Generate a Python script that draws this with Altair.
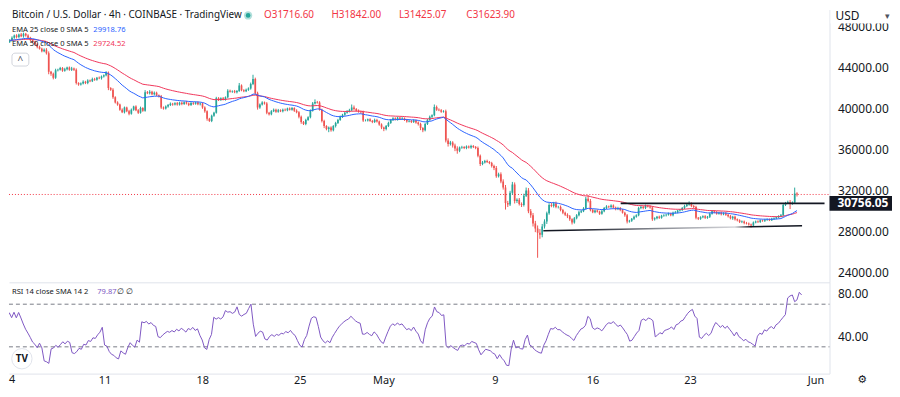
import numpy as np
import pandas as pd
import altair as alt

# ---------------- data (prices in units of $10) ----------------
start_time = "2022-04-03 20:00"     # first 4h candle
first_open10 = 4650.0
close10 = [
    4665, 4690, 4712, 4698, 4722, 4705, 4730, 4712, 4690, 4668, 4650, 4628,
    4600, 4585, 4560, 4575, 4540, 4360, 4340, 4300, 4375, 4380, 4395, 4370,
    4385, 4400, 4378, 4392, 4380, 4250, 4235, 4245, 4262, 4250, 4275, 4268,
    4290, 4282, 4300, 4295, 4312, 4325, 4350, 4200, 4185, 4110, 4060, 4040,
    3990, 3965, 4010, 3975, 3950, 3990, 4020, 3985, 3960, 4005, 3980, 4160,
    4150, 4165, 4140, 4155, 4130, 4120, 4012, 4000, 4020, 4035, 4048, 4040,
    4052, 4040, 4058, 4045, 4062, 4050, 4035, 4055, 4048, 4060, 4042, 4050,
    4010, 3975, 3900, 3880, 3930, 3960, 4100, 4085, 4100, 4090, 4110, 4175,
    4165, 4170, 4160, 4172, 4225, 4180, 4170, 4185, 4195, 4240, 4290, 4150,
    4010, 4040, 4060, 4050, 3960, 3945, 3975, 3990, 3970, 3985, 3975, 3990,
    3985, 4000, 3990, 4005, 3980, 3965, 3920, 3870, 3850, 3890, 3915, 3980,
    4050, 4065, 4060, 3990, 3880, 3830, 3800, 3815, 3790, 3830, 3860, 3890,
    3920, 3940, 3960, 3975, 3985, 4010, 3995, 3980, 3970, 3965, 3885, 3885,
    3895, 3880, 3870, 3890, 3875, 3845, 3815, 3800, 3830, 3860, 3890, 3905,
    3895, 3910, 3900, 3905, 3890, 3875, 3880, 3870, 3885, 3865, 3850, 3810,
    3790, 3850, 3890, 3920, 3935, 4015, 3990, 3985, 3970, 3975, 3690, 3655,
    3670, 3640, 3610, 3590, 3620, 3625, 3615, 3630, 3620, 3635, 3625, 3615,
    3540, 3460, 3475, 3490, 3480, 3470, 3440, 3420, 3340, 3360, 3290, 3230,
    3080, 3065, 3180, 3260, 3100, 3110, 3070, 3060, 3150, 3200, 3000, 2960,
    2880, 2830, 2790, 2770, 2850, 2900, 2980, 3060, 3050, 3075, 3040, 3040,
    3010, 2985, 2965, 2950, 2920, 2890, 2930, 2960, 2990, 3000, 3025, 3120,
    3100, 3010, 2990, 3005, 2995, 2975, 3000, 3030, 3045, 3040, 3055, 3035,
    3020, 3030, 3010, 2985, 2960, 2900, 2905, 2925, 2945, 2960, 3030, 3040,
    3030, 3050, 3045, 3035, 2920, 2930, 2945, 2935, 2955, 2960, 2965, 2975,
    2960, 2985, 2990, 3005, 3010, 3030, 3050, 3065, 3075, 3050, 3040, 2935,
    2925, 2940, 2950, 2935, 2945, 2975, 3000, 2990, 2975, 2985, 2970, 2980,
    2965, 2950, 2930, 2945, 2920, 2910, 2895, 2900, 2885, 2880, 2870, 2860,
    2890, 2900, 2895, 2910, 2905, 2915, 2920, 2912, 2925, 2930, 2940, 2950,
    2960, 3060, 3080, 3090, 3070, 3085, 3171.66, 3162.39,
]
wick_up10 = [
    12, 15, 10, 14, 9, 16, 11, 8, 13, 10, 9, 12,
    10, 14, 9, 12, 15, 18, 8, 11, 14, 9, 12, 10,
    13, 9, 11, 15, 8, 12, 7, 10, 14, 9, 11, 8,
    12, 10, 9, 13, 11, 8, 15, 12, 9, 14, 10, 11,
    8, 12, 10, 9, 13, 11, 8, 12, 10, 14, 9, 20,
    11, 15, 9, 12, 10, 8, 13, 9, 11, 10, 12, 8,
    10, 12, 9, 11, 8, 13, 10, 9, 12, 8, 11, 10,
    9, 12, 8, 10, 11, 9, 15, 12, 10, 13, 9, 14,
    10, 8, 12, 9, 25, 11, 9, 10, 12, 14, 40, 12,
    15, 10, 12, 9, 13, 8, 10, 11, 9, 12, 8, 10,
    11, 9, 12, 10, 8, 13, 10, 12, 9, 11, 10, 12,
    14, 25, 10, 12, 9, 11, 8, 10, 12, 9, 11, 10,
    12, 9, 11, 10, 13, 30, 20, 10, 12, 9, 15, 10,
    8, 11, 9, 12, 10, 8, 11, 9, 10, 12, 9, 11,
    10, 12, 8, 11, 9, 10, 12, 9, 11, 8, 10, 12,
    9, 11, 10, 12, 9, 25, 15, 12, 10, 9, 15, 20,
    15, 12, 18, 22, 10, 12, 9, 11, 10, 12, 9, 10,
    15, 12, 14, 10, 12, 9, 11, 13, 20, 15, 18, 20,
    25, 20, 18, 25, 20, 15, 18, 15, 20, 30, 25, 20,
    22, 25, 30, 35, 25, 20, 15, 18, 20, 15, 18, 12,
    15, 12, 10, 14, 12, 10, 13, 11, 12, 10, 14, 20,
    35, 18, 12, 10, 11, 9, 12, 10, 13, 9, 11, 10,
    9, 12, 10, 11, 9, 12, 10, 8, 11, 9, 12, 15,
    10, 14, 11, 9, 12, 10, 8, 11, 9, 10, 8, 11,
    9, 10, 12, 8, 11, 10, 12, 14, 20, 10, 9, 12,
    8, 10, 9, 11, 8, 12, 10, 9, 11, 8, 10, 9,
    11, 10, 12, 9, 11, 8, 10, 9, 8, 10, 9, 8,
    9, 8, 10, 9, 8, 10, 9, 8, 10, 9, 8, 10,
    12, 15, 10, 12, 18, 10, 58, 12.54,
]
wick_dn10 = [
    10, 12, 9, 14, 11, 8, 13, 10, 12, 9, 11, 10,
    12, 9, 11, 10, 13, 25, 20, 15, 10, 12, 9, 11,
    10, 12, 9, 11, 13, 15, 12, 10, 9, 11, 12, 10,
    9, 11, 10, 8, 12, 9, 10, 20, 12, 15, 10, 12,
    11, 9, 12, 10, 15, 9, 11, 10, 12, 9, 11, 10,
    9, 12, 10, 11, 9, 12, 15, 10, 9, 11, 10, 12,
    9, 11, 10, 12, 9, 10, 11, 9, 12, 10, 9, 11,
    12, 15, 18, 10, 12, 10, 9, 11, 10, 9, 12, 10,
    9, 11, 10, 12, 9, 11, 10, 9, 12, 10, 11, 15,
    20, 12, 10, 11, 15, 12, 10, 9, 11, 10, 9, 12,
    10, 11, 9, 10, 12, 11, 15, 18, 10, 12, 9, 10,
    9, 10, 11, 10, 15, 20, 12, 30, 15, 12, 14, 10,
    9, 11, 10, 9, 12, 10, 11, 9, 10, 12, 15, 10,
    11, 9, 12, 10, 11, 12, 15, 20, 12, 10, 9, 11,
    10, 12, 9, 11, 10, 12, 9, 11, 10, 12, 15, 20,
    20, 12, 10, 9, 11, 10, 12, 10, 11, 9, 20, 25,
    15, 20, 25, 30, 15, 12, 10, 11, 9, 12, 10, 11,
    15, 20, 12, 10, 11, 12, 15, 20, 15, 12, 18, 20,
    65, 25, 15, 20, 25, 20, 15, 20, 15, 12, 20, 25,
    30, 35, 245, 40, 25, 20, 25, 15, 12, 15, 12, 14,
    12, 15, 13, 18, 15, 20, 12, 10, 11, 9, 10, 12,
    15, 12, 10, 11, 9, 12, 10, 11, 10, 9, 11, 10,
    12, 10, 11, 9, 15, 20, 12, 10, 11, 9, 10, 11,
    12, 10, 9, 11, 15, 12, 10, 11, 9, 10, 12, 9,
    10, 11, 9, 12, 10, 9, 11, 10, 12, 11, 10, 15,
    12, 10, 9, 11, 10, 12, 9, 11, 10, 9, 12, 10,
    11, 12, 10, 15, 12, 10, 11, 12, 13, 10, 12, 20,
    10, 9, 11, 10, 9, 11, 10, 9, 8, 10, 9, 10,
    9, 12, 10, 11, 50, 9, 10, 19.88,
]

legend_title = "Bitcoin / U.S. Dollar · 4h · COINBASE · TradingView"
ohlc_items = ["O31716.60", "H31842.00", "L31425.07", "C31623.90"]
ema25_label, ema25_value = "EMA 25 close 0 SMA 5", "29918.76"
ema50_label, ema50_value = "EMA 50 close 0 SMA 5", "29724.52"
rsi_label, rsi_value = "RSI 14 close SMA 14 2", "79.87"
hline_price = 30756.05
hline_start_day = 44.2
support_days = [38.58, 57.37]
support_prices = [28090, 28570]
price_ticks = [24000, 28000, 32000, 36000, 40000, 44000, 48000]
rsi_ticks = [40, 80]
rsi_bands = [70, 30]
day_ticks = [7, 14, 21, 27, 35, 42, 49, 58]

# ---------------- derived frame ----------------
close = np.array(close10, float) * 10
openp = np.concatenate([[first_open10 * 10], close[:-1]])
high = np.maximum(openp, close) + np.array(wick_up10, float) * 10
low = np.minimum(openp, close) - np.array(wick_dn10, float) * 10
times = pd.date_range(start_time, periods=len(close), freq="4h")
days = ((times - pd.Timestamp("2022-04-04")) / pd.Timedelta(days=1)).values


def ema(v, n):
    a = 2.0 / (n + 1)
    out = np.empty(len(v))
    out[0] = v[0]
    for k in range(1, len(v)):
        out[k] = a * v[k] + (1 - a) * out[k - 1]
    return out


def rsi(v, n=14, seed=60.0):
    ag = al = seed
    out = [50.0]
    for k in range(1, len(v)):
        ch = v[k] - v[k - 1]
        ag = (ag * (n - 1) + max(ch, 0)) / n
        al = (al * (n - 1) + max(-ch, 0)) / n
        out.append(100 - 100 / (1 + ag / al) if al > 0 else 100.0)
    return np.array(out)


df = pd.DataFrame({
    "d": days, "open": openp, "close": close, "high": high, "low": low,
    "dir": np.where(close >= openp, "up", "down"),
    "ema25": ema(close, 25), "ema50": ema(close, 50), "rsi": rsi(close),
})

# ---------------- styling ----------------
FONT = "Noto Sans"
TXT = "#131722"
GRID = "#e0e3eb"
UP, DOWN = "#26a69a", "#ef5350"
BLUE, RED = "#2962ff", "#f0365a"
PURPLE = "#7e57c2"
W, H1, H2 = 827, 275, 92
D0, D1 = 0.1423, 59.0
P0, P1 = 23055, 49668
R0, R1 = 4.9, 90.5
LBL_Y = H2 + 1 + 5.5
PX_PER_USD = H1 / (P1 - P0)
BOX_HALF = 7.5 / PX_PER_USD          # half height of the price-label box, in USD

XS = alt.Scale(domain=[D0, D1], nice=False, zero=False)
PS = alt.Scale(domain=[P0, P1], nice=False, zero=False)
RS = alt.Scale(domain=[R0, R1], nice=False, zero=False)

ax_x_top = alt.Axis(labels=False, ticks=False, grid=False, domain=True,
                    domainColor=GRID, title=None)
ax_x_bot = alt.Axis(values=day_ticks, grid=False, ticks=False, domain=True,
                    domainColor=GRID, title=None, labelFont=FONT, labelFontSize=11,
                    labelColor=TXT, labelPadding=1, labelOverlap=False, labelFlush=False,
                    labelExpr="datum.value == 27 ? 'May' : datum.value == 58 ? 'Jun' : "
                              "datum.value < 27 ? format(datum.value + 4, 'd') : format(datum.value - 26, 'd')")
ax_p = alt.Axis(orient="right", values=price_ticks, format=".2f", grid=False, ticks=False,
                domain=True, domainColor=GRID, title=None, labelFont=FONT, labelFontSize=12,
                labelColor=TXT, labelPadding=8)
ax_r = alt.Axis(orient="right", values=rsi_ticks, format=".2f", grid=False, ticks=False,
                domain=True, domainColor=GRID, title=None, labelFont=FONT, labelFontSize=12,
                labelColor=TXT, labelPadding=8)

colr = alt.Color("dir:N", scale=alt.Scale(domain=["up", "down"], range=[UP, DOWN]), legend=None)


def xt(f):
    return alt.X(f, type="quantitative", scale=XS, axis=ax_x_top)


def yp(f):
    return alt.Y(f, type="quantitative", scale=PS, axis=ax_p)


def one():
    return alt.Chart(pd.DataFrame({"t": [""]}))


def txt(s, x, y, size=10, color=TXT, weight="normal", align="left", font=FONT):
    return alt.Chart(pd.DataFrame({"t": [s]})).mark_text(
        align=align, baseline="middle", fontSize=size, color=color,
        fontWeight=weight, font=font).encode(x=alt.value(x), y=alt.value(y), text="t:N")


base = alt.Chart(df)
wicks = base.mark_rule(strokeWidth=1, clip=True).encode(x=xt("d"), y=yp("low"), y2="high", color=colr)
bodies = base.mark_bar(size=1.7, clip=True).encode(x=xt("d"), y=yp("open"), y2="close", color=colr)
l25 = base.mark_line(color=BLUE, strokeWidth=1, clip=True).encode(x=xt("d"), y=yp("ema25"))
l50 = base.mark_line(color=RED, strokeWidth=1, clip=True).encode(x=xt("d"), y=yp("ema50"))

last_close = float(close[-1])
dotted = one().mark_rule(color="#f23645", strokeWidth=1, strokeDash=[1, 2]).encode(
    x=alt.value(0), x2=alt.value(W),
    y=alt.YDatum(last_close, type="quantitative", scale=PS, axis=ax_p))
hline = one().mark_rule(color=TXT, strokeWidth=1.6).encode(
    x=alt.XDatum(hline_start_day, type="quantitative", scale=XS, axis=ax_x_top),
    x2=alt.X2Datum(D1),
    y=alt.YDatum(hline_price, type="quantitative", scale=PS, axis=ax_p))
sup_df = pd.DataFrame({"d": support_days, "p": support_prices})
support = alt.Chart(sup_df).mark_line(
    strokeWidth=1.6,
    stroke=alt.Gradient(gradient="linear", x1=0, x2=1, y1=0, y2=0, stops=[
        alt.GradientStop(color=TXT, offset=0), alt.GradientStop(color=TXT, offset=0.12),
        alt.GradientStop(color="#8a8d95", offset=0.45), alt.GradientStop(color="#d5d6da", offset=0.74),
        alt.GradientStop(color=TXT, offset=0.8), alt.GradientStop(color=TXT, offset=1)])
).encode(x=xt("d"), y=yp("p"))

box = one().mark_rect(color=TXT, strokeWidth=0).encode(
    x=alt.value(W), x2=alt.value(890),
    y=alt.YDatum(hline_price + BOX_HALF, type="quantitative", scale=PS, axis=ax_p),
    y2=alt.Y2Datum(hline_price - BOX_HALF))
box_txt = one().mark_text(align="left", baseline="middle", fontSize=12, fontWeight="bold",
                          color="white", font=FONT).encode(
    x=alt.value(W + 8), y=alt.YDatum(hline_price, type="quantitative", scale=PS, axis=ax_p),
    text=alt.value(f"{hline_price:.2f}"))
usd_bg = one().mark_rect(fill="white", strokeWidth=0).encode(
    x=alt.value(W + 1), x2=alt.value(890), y=alt.value(0), y2=alt.value(14))
usd = txt("USD", W + 6, 6.5, size=12)
caret = txt("▾", 883, 6.5, size=9, color="#50535e")

title = txt(legend_title, 3, 6, size=10)
dot_o = one().mark_point(shape="circle", filled=True, color="#b2dfdb", size=70, opacity=1).encode(
    x=alt.value(241), y=alt.value(6))
dot_i = one().mark_point(shape="circle", filled=True, color=UP, size=22, opacity=1).encode(
    x=alt.value(241), y=alt.value(6))
ohlc = [txt(s, 257 + 68 * k, 6, size=10, color="#f23645") for k, s in enumerate(ohlc_items)]
e25a = txt(ema25_label, 3, 21, size=7.6)
e25b = txt(ema25_value, 85, 21, size=7.6, color=BLUE)
e50a = txt(ema50_label, 3, 35, size=7.6)
e50b = txt(ema50_value, 85, 35, size=7.6, color=RED)
btn = one().mark_rect(fill="white", stroke="#d1d4dc", cornerRadius=3).encode(
    x=alt.value(3), x2=alt.value(20), y=alt.value(44), y2=alt.value(57))
btn_t = txt("^", 11.5, 52, size=10, color="#50535e", align="center")

top = alt.layer(dotted, wicks, bodies, l50, l25, hline, support, box, box_txt,
                usd_bg, usd, caret, title, dot_o, dot_i, *ohlc, e25a, e25b, e50a, e50b,
                btn, btn_t).properties(width=W, height=H1)

# ---------------- RSI panel ----------------
xb = alt.X("d", type="quantitative", scale=XS, axis=ax_x_bot)
rsi_line = base.mark_line(color=PURPLE, strokeWidth=1, clip=True).encode(
    x=xb, y=alt.Y("rsi", type="quantitative", scale=RS, axis=ax_r))
band_df = pd.DataFrame({"v": rsi_bands})
bands = alt.Chart(band_df).mark_rule(color="#787b86", strokeWidth=1, strokeDash=[4, 3]).encode(
    x=alt.value(0), x2=alt.value(W), y=alt.Y("v", type="quantitative", scale=RS, axis=ax_r))
r_a = txt(rsi_label, 3, 10, size=7.6)
r_b = txt(rsi_value, 89, 10, size=7.6, color=PURPLE)
r_c = txt("∅ ∅", 109, 10, size=7.6)
logo = one().mark_point(shape="circle", filled=False, fill="white", stroke="#e0e3eb",
                        strokeWidth=1, size=420, opacity=1).encode(x=alt.value(13), y=alt.value(77))
logo_t = txt("TV", 13, 77, size=10, weight="bold", align="center")
first_lbl = txt("4", 0, LBL_Y, size=11)
gear = txt("⚙", 860, LBL_Y, size=11, font="DejaVu Sans", align="center")

bottom = alt.layer(bands, rsi_line, r_a, r_b, r_c, logo, logo_t, first_lbl, gear).properties(
    width=W, height=H2)

chart = alt.vconcat(top, bottom, spacing=0).properties(
    padding=0, background="white").configure_view(stroke=None)

chart.save("out.html", embed_options={"renderer": "svg", "actions": False})
